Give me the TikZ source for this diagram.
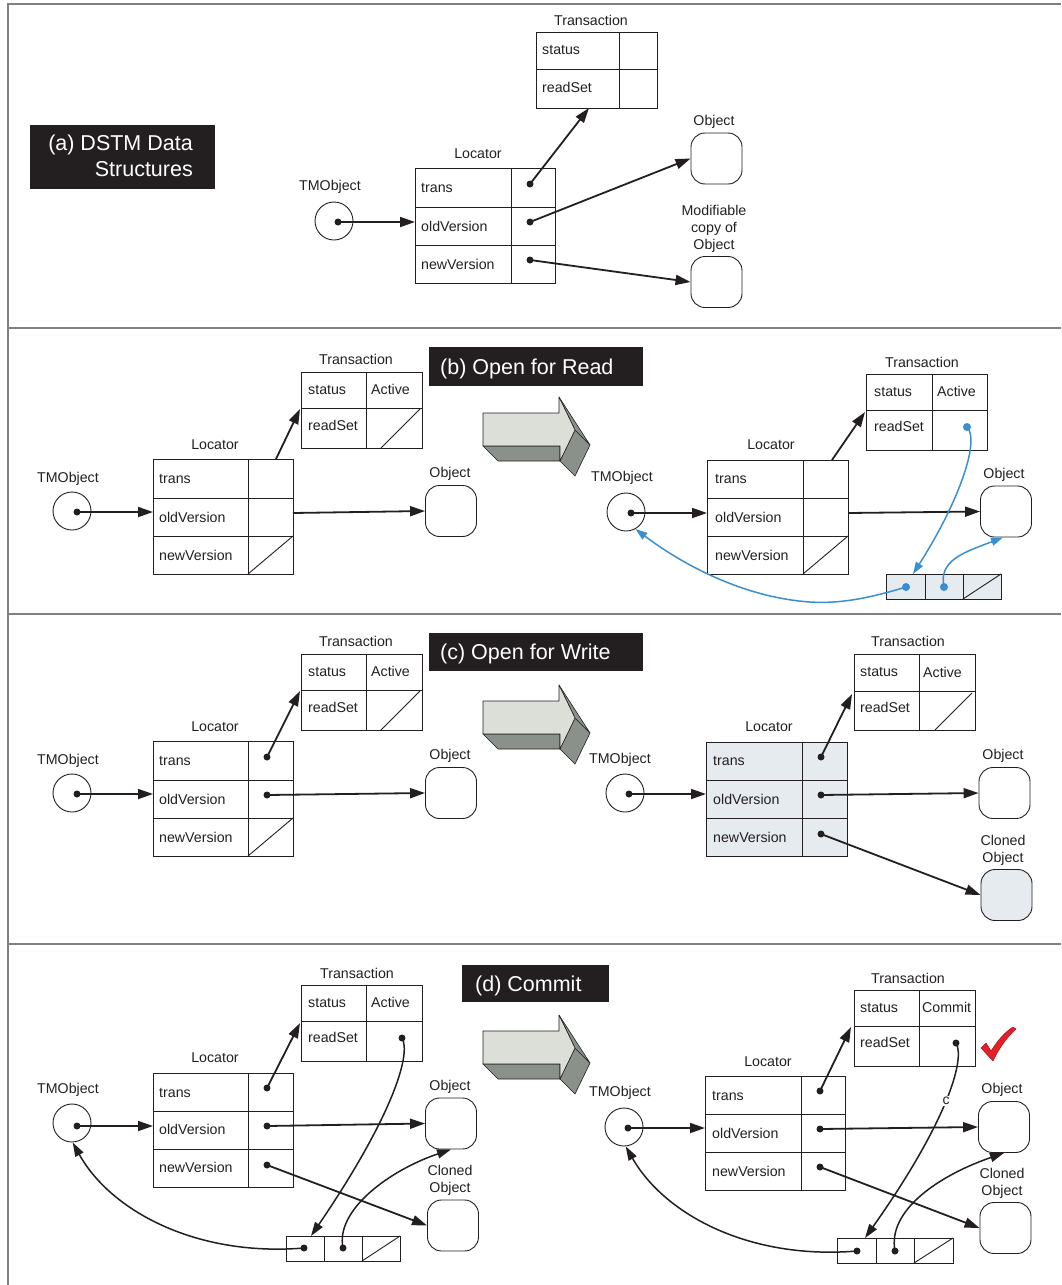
\documentclass[tikz,border=0pt]{standalone}
\usepackage{fontspec}
\usetikzlibrary{arrows.meta}
\newfontfamily\dsfont{Liberation Sans}
\newcommand\dslab{\dsfont\fontsize{14.2}{17}\selectfont}
\newcommand\dstitle{\dsfont\fontsize{21.5}{26}\selectfont}
\newcommand\dssmall{\dsfont\fontsize{14}{16}\selectfont}
\definecolor{framegray}{RGB}{128,128,128}
\definecolor{lineblk}{RGB}{35,31,32}
\definecolor{cellfill}{RGB}{230,235,240}
\definecolor{dsblue}{RGB}{58,142,210}
\definecolor{arrowlight}{RGB}{220,223,216}
\definecolor{arrowdark}{RGB}{138,145,139}
\definecolor{checkred}{RGB}{230,30,40}
\tikzset{
 panelframe/.style={draw=framegray, line width=1.8pt},
 tbl/.style={draw=lineblk, line width=0.9pt},
 lbl/.style={font=\dslab, inner sep=0pt, text height=10.2pt, text depth=0pt, text=lineblk},
 lblm/.style={font=\dslab, inner sep=0pt, align=center, text=lineblk},
 ttl/.style={font=\dstitle, text=white, inner sep=0pt, text height=15.4pt, text depth=0pt, anchor=west},
 ttlm/.style={font=\dstitle, text=white, inner sep=0pt, align=right},
 ptdot/.style={circle, fill=lineblk, inner sep=0pt, minimum size=7pt},
 bdot/.style={circle, fill=dsblue, inner sep=0pt, minimum size=8pt},
 tmo/.style={circle, draw=lineblk, line width=0.9pt, minimum size=38pt, inner sep=0pt},
 objbox/.style={draw=lineblk, line width=0.9pt, rounded corners=14pt, minimum width=51pt, minimum height=51pt, inner sep=0pt},
 ptr/.style={draw=lineblk, line width=1.8pt, -{Triangle[length=15pt,width=10pt]}},
 cptr/.style={draw=lineblk, line width=1.5pt, -{Triangle[length=14pt,width=9pt]}},
 bptr/.style={draw=dsblue, line width=1.5pt, -{Triangle[length=12pt,width=8pt]}},
 face/.style={draw=lineblk, line width=0.6pt, line join=round},
}
\newcommand\dsgrid[8]{%
  \path[fill=#8] (#2,#3) rectangle (#5,#6);
  \draw[tbl] (#2,#3) rectangle (#5,#6);
  \draw[tbl] (#4,#3) -- (#4,#6);
  \foreach \rowy in {#7} {\draw[tbl] (#2,\rowy) -- (#5,\rowy);}
  \coordinate (#1) at (#2,#3);
}
\newcommand\dslist[8]{%
  \path[fill=#8] (#2,#3) rectangle (#6,#7);
  \draw[tbl] (#2,#3) rectangle (#6,#7);
  \draw[tbl] (#4,#3) -- (#4,#7);
  \draw[tbl] (#5,#3) -- (#5,#7);
  \draw[tbl] (#5,#7) -- (#6,#3);
  \coordinate (#1) at (#2,#3);
}
\newcommand\bigarrow[2]{%
  \begin{scope}[shift={(#1,#2)}]
  \filldraw[face, fill=arrowdark] (0,49) -- (77,49) -- (77,64) -- (15,64) -- cycle;
  \filldraw[face, fill=arrowdark] (92,33) -- (107,48) -- (92,79) -- (77,64) -- cycle;
  \filldraw[face, fill=arrowdark] (76,0) -- (107,48) -- (92,33) -- cycle;
  \filldraw[face, fill=arrowlight] (0,16) -- (76,16) -- (76,0) -- (92,33) -- (77,64) -- (77,49) -- (0,49) -- cycle;
  \end{scope}}
\begin{document}
\begin{tikzpicture}[x=1pt,y=-1pt]
\useasboundingbox (0,0) rectangle (1061,1285);
% frame
\draw[panelframe] (1061,4) -- (8,4) -- (8,1285);
\foreach \yy in {328,614,944} {\draw[panelframe] (8,\yy) -- (1061,\yy);}

% ================= Panel A =================
\fill[lineblk] (30,125) rectangle (215,189);
\node[ttlm, anchor=east] (aTitle) at (193,156) {(a) DSTM Data\\Structures};
\node[lbl] (aTrLab) at (591,20) {Transaction};
\dsgrid{aTr}{536}{32}{619}{657}{108}{69}{none}
\node[lbl,anchor=west] (aStatus) at (542,49) {status};
\node[lbl,anchor=west] (aRead) at (542,87) {readSet};
\node[lbl] (aLocLab) at (478,153) {Locator};
\dsgrid{aLoc}{415}{168}{511}{555}{283}{207,245}{none}
\node[lbl,anchor=west] (aTrans) at (421,187) {trans};
\node[lbl,anchor=west] (aOld) at (421,226) {oldVersion};
\node[lbl,anchor=west] (aNew) at (421,264) {newVersion};
\node[lbl] (aTMLab) at (330,185) {TMObject};
\node[tmo] (aTM) at (334,221) {};
\node[ptdot] (aTMd) at (338,222) {};
\node[lbl] (aObjLab) at (714,120) {Object};
\node[objbox] (aObj) at (716.5,158.5) {};
\node[lblm] (aModLab) at (714,229) {Modifiable\\copy of\\Object};
\node[objbox] (aMod) at (716.5,282) {};
\node[ptdot] (aD1) at (530,184) {};
\node[ptdot] (aD2) at (530,222) {};
\node[ptdot] (aD3) at (530,260) {};
\coordinate (aTrIn) at (589,108);
\coordinate (aLocIn) at (415,222);
\draw[ptr] (aTMd.center) -- (aLocIn);
\draw[ptr] (aD1.center) -- (aTrIn);
\draw[ptr] (aD2.center) -- (aObj.west);
\draw[ptr] (aD3.center) -- (aMod.west);

% ================= Panel B left =================
\fill[lineblk] (429,347) rectangle (643,386);
\node[ttl] (bTitle) at (440,366.5) {(b) Open for Read};
\bigarrow{483}{397}
\node[lbl] (bTrLab) at (356,359) {Transaction};
\dsgrid{bTr}{301}{372}{366}{422}{448}{408}{none}
\node[lbl,anchor=west] (bStatus) at (308,389) {status};
\node[lbl,anchor=west] (bActive) at (371,389) {Active};
\node[lbl,anchor=west] (bRead) at (308,425) {readSet};
\draw[tbl] (381,448) -- (420,409);
\node[lbl] (bLocLab) at (215,444) {Locator};
\dsgrid{bLoc}{153}{459}{248}{293}{574}{498,536}{none}
\node[lbl,anchor=west] (bTrans) at (159,478) {trans};
\node[lbl,anchor=west] (bOld) at (159,517) {oldVersion};
\node[lbl,anchor=west] (bNew) at (159,555) {newVersion};
\draw[tbl] (248,574) -- (293,536);
\node[lbl] (bTMLab) at (68,477) {TMObject};
\node[tmo] (bTM) at (72,511) {};
\node[ptdot] (bTMd) at (77,512) {};
\coordinate (bLocIn) at (153,512);
\draw[ptr] (bTMd.center) -- (bLocIn);
\coordinate (bTrOut) at (276,459);
\coordinate (bTrIn) at (300,409);
\draw[ptr] (bTrOut) -- (bTrIn);
\node[lbl] (bObjLab) at (450,472) {Object};
\node[objbox] (bObj) at (451,511) {};
\coordinate (bOldOut) at (293,513);
\draw[ptr] (bOldOut) -- (bObj.west);

% ================= Panel B right =================
\node[lbl] (bbTrLab) at (922,362) {Transaction};
\dsgrid{bbTr}{866}{374}{932}{987}{450}{410}{none}
\node[lbl,anchor=west] (bbStatus) at (874,391) {status};
\node[lbl,anchor=west] (bbActive) at (937,391) {Active};
\node[lbl,anchor=west] (bbRead) at (874,426) {readSet};
\node[lbl] (bbLocLab) at (771,444) {Locator};
\dsgrid{bbLoc}{707}{460}{803}{848}{574}{498,536}{none}
\node[lbl,anchor=west] (bbTrans) at (715,478) {trans};
\node[lbl,anchor=west] (bbOld) at (715,517) {oldVersion};
\node[lbl,anchor=west] (bbNew) at (715,555) {newVersion};
\draw[tbl] (803,574) -- (848,536);
\coordinate (bbTrOut) at (832,460);
\coordinate (bbTrIn) at (865,412);
\draw[ptr] (bbTrOut) -- (bbTrIn);
\node[lbl] (bbObjLab) at (1004,473) {Object};
\node[objbox] (bbObj) at (1006,511.5) {};
\coordinate (bbOldOut) at (848,513);
\draw[ptr] (bbOldOut) -- (bbObj.west);
\node[lbl] (bbTMLab) at (622,476) {TMObject};
\node[tmo] (bbTM) at (626,512) {};
\node[ptdot] (bbTMd) at (631,513) {};
\coordinate (bbLocIn) at (707,513);
\draw[ptr] (bbTMd.center) -- (bbLocIn);
\dslist{bbList}{886}{574}{925}{963}{1001}{599}{cellfill}
\node[bdot] (bbRs) at (967,427) {};
\node[bdot] (bbL1) at (906,587) {};
\node[bdot] (bbL2) at (944,587) {};
\coordinate (bbL1in) at (913,574);
\draw[bptr] (bbRs.center) .. controls (980,440) and (960,500) .. (bbL1in);
\draw[bptr] (bbL1.center) .. controls (870,598) and (840,604) .. (810,602) .. controls (750,598) and (690,570) .. (bbTM.-61);
\draw[bptr] (bbL2.center) .. controls (938,560) and (965,552) .. ([xshift=-3pt]bbObj.south);

% ================= Panel C left =================
\fill[lineblk] (429,633) rectangle (643,671);
\node[ttl] (cTitle) at (440,652) {(c) Open for Write};
\bigarrow{483}{685}
\node[lbl] (cTrLab) at (356,641) {Transaction};
\dsgrid{cTr}{301}{654}{366}{422}{730}{690}{none}
\node[lbl,anchor=west] (cStatus) at (308,671) {status};
\node[lbl,anchor=west] (cActive) at (371,671) {Active};
\node[lbl,anchor=west] (cRead) at (308,707) {readSet};
\draw[tbl] (381,730) -- (420,691);
\node[lbl] (cLocLab) at (215,726) {Locator};
\dsgrid{cLoc}{153}{741}{248}{293}{856}{780,818}{none}
\node[lbl,anchor=west] (cTrans) at (159,760) {trans};
\node[lbl,anchor=west] (cOld) at (159,799) {oldVersion};
\node[lbl,anchor=west] (cNew) at (159,837) {newVersion};
\draw[tbl] (248,856) -- (293,818);
\node[lbl] (cTMLab) at (68,759) {TMObject};
\node[tmo] (cTM) at (72,793) {};
\node[ptdot] (cTMd) at (77,794) {};
\coordinate (cLocIn) at (153,794);
\draw[ptr] (cTMd.center) -- (cLocIn);
\node[ptdot] (cD1) at (267,757) {};
\node[ptdot] (cD2) at (267,795) {};
\coordinate (cTrIn) at (300,691);
\draw[ptr] (cD1.center) -- (cTrIn);
\node[lbl] (cObjLab) at (450,754) {Object};
\node[objbox] (cObj) at (451,793) {};
\draw[ptr] (cD2.center) -- (cObj.west);

% ================= Panel C right =================
\node[lbl] (ccTrLab) at (908,641) {Transaction};
\dsgrid{ccTr}{854}{654}{919}{975}{730}{691}{none}
\node[lbl,anchor=west] (ccStatus) at (860,671) {status};
\node[lbl,anchor=west] (ccActive) at (923,672) {Active};
\node[lbl,anchor=west] (ccRead) at (860,707) {readSet};
\draw[tbl] (935,730) -- (972,693);
\node[lbl] (ccLocLab) at (769,726) {Locator};
\dsgrid{ccLoc}{706}{742}{802}{847}{856}{780,818}{cellfill}
\node[lbl,anchor=west] (ccTrans) at (713,760) {trans};
\node[lbl,anchor=west] (ccOld) at (713,799) {oldVersion};
\node[lbl,anchor=west] (ccNew) at (713,837) {newVersion};
\node[ptdot] (ccD1) at (821,757) {};
\node[ptdot] (ccD2) at (821,795) {};
\node[ptdot] (ccD3) at (821,834) {};
\coordinate (ccTrIn) at (852,694);
\draw[ptr] (ccD1.center) -- (ccTrIn);
\node[lbl] (ccObjLab) at (1003,754) {Object};
\node[objbox] (ccObj) at (1004.5,793) {};
\node[lblm] (ccClLab) at (1003,850) {Cloned\\Object};
\node[objbox, fill=cellfill] (ccCl) at (1006.5,895) {};
\draw[ptr] (ccD2.center) -- (ccObj.west);
\draw[ptr] (ccD3.center) -- (ccCl.west);
\node[lbl] (ccTMLab) at (620,758) {TMObject};
\node[tmo] (ccTM) at (625,793) {};
\node[ptdot] (ccTMd) at (629,794) {};
\coordinate (ccLocIn) at (706,794);
\draw[ptr] (ccTMd.center) -- (ccLocIn);

% ================= Panel D left =================
\fill[lineblk] (462,965) rectangle (609,1002);
\node[ttl] (dTitle) at (475,983.5) {(d) Commit};
\bigarrow{483}{1015}
\node[lbl] (dTrLab) at (357,973) {Transaction};
\dsgrid{dTr}{301}{985}{366}{422}{1061}{1021}{none}
\node[lbl,anchor=west] (dStatus) at (308,1002) {status};
\node[lbl,anchor=west] (dActive) at (371,1002) {Active};
\node[lbl,anchor=west] (dRead) at (308,1037) {readSet};
\node[ptdot] (dRs) at (402,1038) {};
\node[lbl] (dLocLab) at (215,1057) {Locator};
\dsgrid{dLoc}{153}{1073}{248}{293}{1187}{1111,1149}{none}
\node[lbl,anchor=west] (dTrans) at (159,1092) {trans};
\node[lbl,anchor=west] (dOld) at (159,1129) {oldVersion};
\node[lbl,anchor=west] (dNew) at (159,1167) {newVersion};
\node[ptdot] (dD1) at (267,1088) {};
\node[ptdot] (dD2) at (267,1126) {};
\node[ptdot] (dD3) at (267,1165) {};
\coordinate (dTrIn) at (300,1023);
\draw[ptr] (dD1.center) -- (dTrIn);
\node[lbl] (dObjLab) at (450,1085) {Object};
\node[objbox] (dObj) at (451,1123.5) {};
\node[lblm] (dClLab) at (450,1180) {Cloned\\Object};
\node[objbox] (dCl) at (453,1225.5) {};
\draw[ptr] (dD2.center) -- (dObj.west);
\draw[ptr] (dD3.center) -- (dCl.west);
\node[lbl] (dTMLab) at (68,1088) {TMObject};
\node[tmo] (dTM) at (72,1123) {};
\node[ptdot] (dTMd) at (77,1126) {};
\coordinate (dLocIn) at (153,1126);
\draw[ptr] (dTMd.center) -- (dLocIn);
\dslist{dList}{286}{1236}{324}{362}{400}{1261}{none}
\node[ptdot] (dL1) at (304,1248) {};
\node[ptdot] (dL2) at (343,1248) {};
\coordinate (dL1in) at (311,1236);
\draw[cptr] (dRs.center) .. controls (412,1055) and (390,1120) .. (dL1in);
\draw[cptr] (dL2.center) .. controls (335,1210) and (390,1170) .. (dObj.south);
\draw[cptr] (dL1.center) .. controls (195,1257) and (110,1210) .. (dTM.-88);

% ================= Panel D right =================
\node[lbl] (ddTrLab) at (908,978) {Transaction};
\dsgrid{ddTr}{854}{990}{919}{975}{1066}{1026}{none}
\node[lbl,anchor=west] (ddStatus) at (860,1007) {status};
\node[lbl,anchor=west] (ddCommit) at (922,1007) {Commit};
\node[lbl,anchor=west] (ddRead) at (860,1042) {readSet};
\node[ptdot] (ddRs) at (956,1043) {};
\filldraw[fill=checkred, draw=checkred!70!black, line width=0.5pt, line join=round]
  (981,1048) -- (986,1043) -- (991,1051) .. controls (998,1040) and (1005,1032) .. (1013,1027)
  -- (1016,1029) .. controls (1006,1038) and (998,1050) .. (993,1061) -- cycle;
\node[lbl] (ddLocLab) at (768,1061) {Locator};
\dsgrid{ddLoc}{705}{1076}{801}{845}{1190}{1114,1152}{none}
\node[lbl,anchor=west] (ddTrans) at (712,1095) {trans};
\node[lbl,anchor=west] (ddOld) at (712,1133) {oldVersion};
\node[lbl,anchor=west] (ddNew) at (712,1171) {newVersion};
\node[ptdot] (ddD1) at (820,1091) {};
\node[ptdot] (ddD2) at (820,1129) {};
\node[ptdot] (ddD3) at (820,1167) {};
\coordinate (ddTrIn) at (851,1027);
\draw[ptr] (ddD1.center) -- (ddTrIn);
\node[lbl] (ddObjLab) at (1002,1088) {Object};
\node[objbox] (ddObj) at (1004,1127) {};
\node[lblm] (ddClLab) at (1002,1183) {Cloned\\Object};
\node[objbox] (ddCl) at (1005.5,1228) {};
\draw[ptr] (ddD2.center) -- (ddObj.west);
\draw[ptr] (ddD3.center) -- (ddCl.west);
\node[lbl] (ddTMLab) at (620,1091) {TMObject};
\node[tmo] (ddTM) at (624,1127) {};
\node[ptdot] (ddTMd) at (628,1128) {};
\coordinate (ddLocIn) at (705,1128);
\draw[ptr] (ddTMd.center) -- (ddLocIn);
\dslist{ddList}{837}{1238}{876}{914}{953}{1263}{none}
\node[ptdot] (ddL1) at (857,1251) {};
\node[ptdot] (ddL2) at (895,1251) {};
\coordinate (ddL1in) at (865,1238);
\draw[cptr] (ddRs.center) .. controls (966,1060) and (945,1125) .. (ddL1in);
\node[font=\dssmall, fill=white, inner sep=1.5pt, text=lineblk] (ddC) at (946,1101) {c};
\draw[cptr] (ddL2.center) .. controls (887,1210) and (940,1175) .. (ddObj.south);
\draw[cptr] (ddL1.center) .. controls (750,1260) and (665,1215) .. (ddTM.-85);
\end{tikzpicture}
\end{document}
